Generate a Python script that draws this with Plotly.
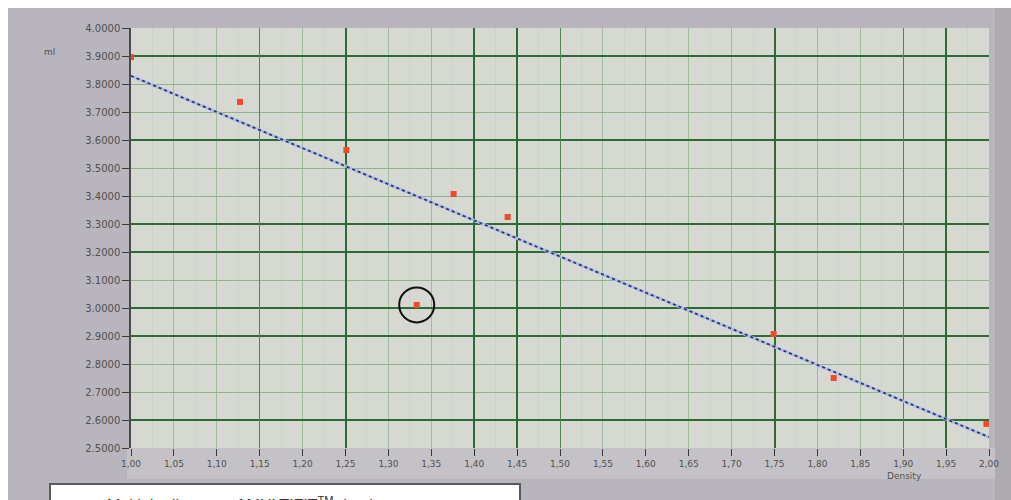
import plotly.graph_objects as go

# ---- data ----
density = [1.000, 1.127, 1.251, 1.376, 1.439, 1.749, 1.819, 1.997]
volume = [3.896, 3.736, 3.564, 3.407, 3.325, 2.907, 2.750, 2.586]
outlier_x = [1.333]
outlier_y = [3.011]
fit_x = [1.00, 2.00]
fit_y = [3.829, 2.539]

x_ticks = [1.00, 1.05, 1.10, 1.15, 1.20, 1.25, 1.30, 1.35, 1.40, 1.45, 1.50,
           1.55, 1.60, 1.65, 1.70, 1.75, 1.80, 1.85, 1.90, 1.95, 2.00]
x_ticktext = ["1,00", "1,05", "1,10", "1,15", "1,20", "1,25", "1,30", "1,35",
              "1,40", "1,45", "1,50", "1,55", "1,60", "1,65", "1,70", "1,75",
              "1,80", "1,85", "1,90", "1,95", "2,00"]
x_dark = [1.25, 1.40, 1.45, 1.75, 1.95]
x_medium = [1.15, 1.50, 1.90]
y_ticks = [4.0, 3.9, 3.8, 3.7, 3.6, 3.5, 3.4, 3.3, 3.2, 3.1, 3.0, 2.9, 2.8, 2.7, 2.6, 2.5]
y_dark = [3.9, 3.6, 3.3, 3.2, 3.0, 2.9, 2.6]

OFF = 8  # page body margin
W, H = 1011 - OFF, 500 - OFF
L, R, T, B = 131 - OFF, 1011 - 989, 28 - OFF, 500 - 448
PW, PH = W - L - R, H - T - B
def px(v): return (v - OFF - L) / PW          # page pixel -> paper x
def py(v): return (H - B - (v - OFF)) / PH    # page pixel -> paper y

fig = go.Figure()

# helper traces so the overlay axes exist
fig.add_trace(go.Scatter(x=[fit_x[0]], y=[fit_y[0]], xaxis="x2", yaxis="y2",
                         mode="markers", marker=dict(opacity=0), showlegend=False, hoverinfo="skip"))
fig.add_trace(go.Scatter(x=[fit_x[0]], y=[fit_y[0]], xaxis="x3", yaxis="y3",
                         mode="markers", marker=dict(opacity=0), showlegend=False, hoverinfo="skip"))

# regression line: light halo + dotted navy
fig.add_trace(go.Scatter(x=fit_x, y=fit_y, mode="lines",
                         line=dict(color="#b4bfe0", width=3), showlegend=False, hoverinfo="skip"))
fig.add_trace(go.Scatter(x=fit_x, y=fit_y, mode="lines",
                         line=dict(color="#26357f", width=1.8, dash="dot"), showlegend=False))

# measured points
fig.add_trace(go.Scatter(x=density + outlier_x, y=volume + outlier_y, mode="markers",
                         marker=dict(symbol="square", size=6, color="#ef4a2c"),
                         showlegend=False))
# circle around outlier
fig.add_trace(go.Scatter(x=outlier_x, y=outlier_y, mode="markers",
                         marker=dict(symbol="circle-open", size=35, color="#111111",
                                     line=dict(color="#111111", width=2)),
                         cliponaxis=False, showlegend=False))

yfont = dict(family="DejaVu Sans, Liberation Sans", size=10, color="#505050")
xfont = dict(family="DejaVu Sans, Liberation Sans", size=9, color="#505050")

fig.update_layout(
    width=W, height=H,
    margin=dict(l=L, r=R, t=T, b=B, pad=0),
    paper_bgcolor="#b9b5bc",
    plot_bgcolor="#d6d8d2",
    showlegend=False,
    xaxis=dict(range=[1.0, 2.0], tickvals=x_ticks, ticktext=x_ticktext,
               showgrid=True, gridcolor="#9dbd9c", gridwidth=1,
               ticks="outside", ticklen=7, tickcolor="#3a3a3a",
               tickfont=xfont, zeroline=False, showline=False,
               minor=dict(dtick=0.025, showgrid=True, gridcolor="#cdd1c9", gridwidth=1)),
    yaxis=dict(range=[2.5, 4.0], tickvals=y_ticks, tickformat=".4f",
               showgrid=True, gridcolor="#8db48c", gridwidth=1,
               ticks="outside", ticklen=7, tickcolor="#3a3a3a",
               tickfont=yfont, zeroline=False,
               showline=True, linecolor="#4a4a4a", linewidth=1.5),
    xaxis2=dict(overlaying="x", matches="x", tickvals=x_dark, showticklabels=False,
                showgrid=True, gridcolor="#2f6a35", gridwidth=1.6,
                ticks="outside", ticklen=7, tickcolor="#2f2f2f", zeroline=False),
    yaxis2=dict(overlaying="y", matches="y", tickvals=y_dark, showticklabels=False,
                showgrid=True, gridcolor="#2f6a35", gridwidth=1.6, zeroline=False),
    xaxis3=dict(overlaying="x", matches="x", tickvals=x_medium, showticklabels=False,
                showgrid=True, gridcolor="#4f8852", gridwidth=1.3, zeroline=False),
    yaxis3=dict(overlaying="y", matches="y", tickvals=[4.0], showticklabels=False,
                showgrid=True, gridcolor="#6a6a6a", gridwidth=1.5, zeroline=False),
    shapes=[
        # lighter band under the plot
        dict(type="rect", xref="paper", yref="paper", x0=px(127), x1=px(995), y0=py(479), y1=py(448),
             fillcolor="#c4c2c6", line_width=0, layer="below"),
        # darker strip at right
        dict(type="rect", xref="paper", yref="paper", x0=px(995), x1=px(1011), y0=py(500), y1=py(8),
             fillcolor="#aeabb0", line_width=0, layer="below"),
        # caption box at the bottom
        dict(type="rect", xref="paper", yref="paper", x0=px(50), x1=px(520), y0=py(520), y1=py(484),
             fillcolor="white", line=dict(color="#5a5a5a", width=2), layer="above"),
    ],
    annotations=[
        dict(text="ml", xref="paper", yref="paper", x=px(42), y=py(45), showarrow=False,
             font=dict(family="DejaVu Sans, Liberation Sans", size=9, color="#505050")),
        dict(text="Density", xref="paper", yref="paper", x=px(924), y=py(483), showarrow=False,
             font=dict(family="DejaVu Sans, Liberation Sans", size=9, color="#505050")),
        dict(text="Multiple diagram of MULTIFIT<sup>TM</sup> database", xref="paper", yref="paper",
             x=px(105), y=py(492), xanchor="left", yanchor="top", showarrow=False,
             font=dict(family="Liberation Sans, Arial", size=16, color="#333333")),
    ],
)

fig.write_html("out.html",
               post_script="document.body.style.margin='8px 0 0 8px';"
                           "document.body.style.overflow='hidden';")
